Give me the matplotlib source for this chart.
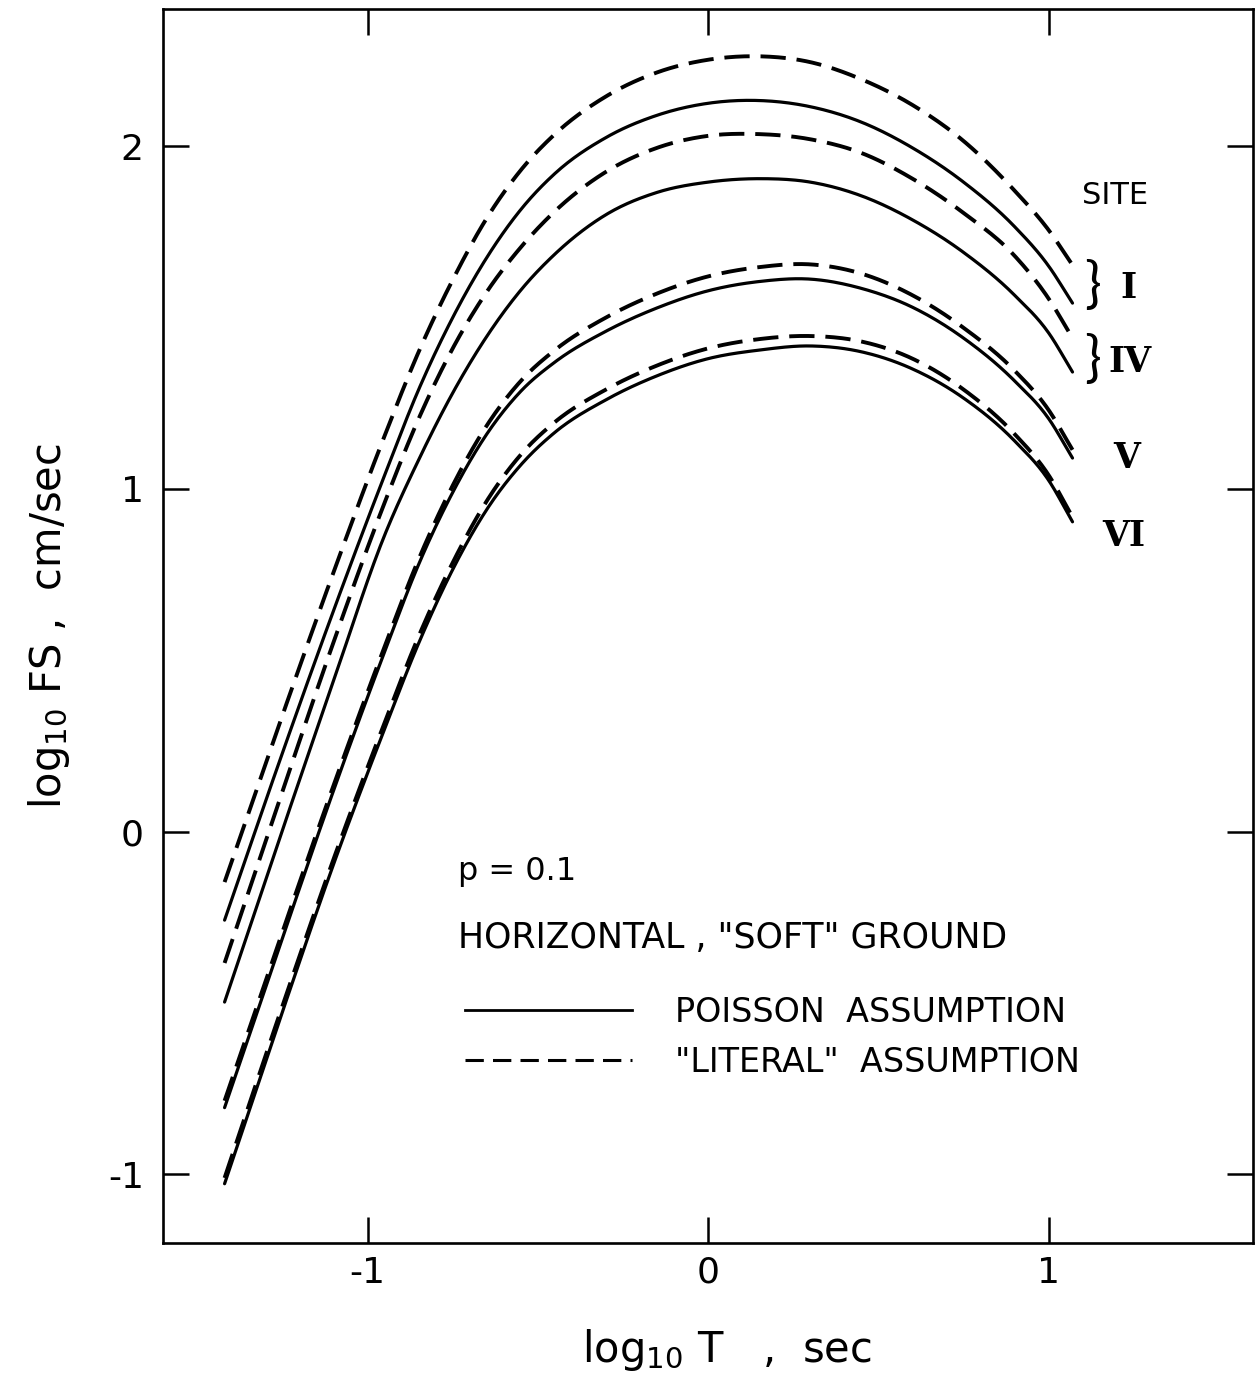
import numpy as np
import matplotlib
matplotlib.use('Agg')
import matplotlib.pyplot as plt
from matplotlib.lines import Line2D

plt.rcParams['font.family'] = ['DejaVu Sans']

log_t = [-1.42, -1.25, -1.10, -0.95, -0.85, -0.75, -0.65, -0.55, -0.45, -0.30,
         -0.15, 0.00, 0.15, 0.30, 0.45, 0.60, 0.75, 0.90, 1.00, 1.07]

# log10 FS (cm/sec), per site: poisson (solid) and literal (dashed)
site1_literal = [-0.147, 0.34, 0.757, 1.155, 1.40, 1.61, 1.79, 1.93, 2.035, 2.145,
                 2.215, 2.252, 2.262, 2.245, 2.195, 2.12, 2.015, 1.87, 1.755, 1.653]
site1_poisson = [-0.258, 0.23, 0.645, 1.04, 1.29, 1.50, 1.675, 1.815, 1.92, 2.025,
                 2.09, 2.125, 2.133, 2.115, 2.07, 1.995, 1.895, 1.765, 1.65, 1.542]
site4_literal = [-0.383, 0.118, 0.553, 0.96, 1.205, 1.41, 1.575, 1.705, 1.81, 1.925,
                 1.995, 2.03, 2.035, 2.02, 1.98, 1.905, 1.805, 1.68, 1.555, 1.44]
site4_poisson = [-0.497, 0.005, 0.44, 0.865, 1.085, 1.28, 1.445, 1.58, 1.685, 1.80,
                 1.865, 1.895, 1.905, 1.895, 1.855, 1.785, 1.69, 1.565, 1.455, 1.341]
site5_literal = [-0.785, -0.292, 0.135, 0.54, 0.795, 1.01, 1.185, 1.315, 1.405, 1.50,
                 1.57, 1.62, 1.647, 1.655, 1.628, 1.565, 1.47, 1.345, 1.23, 1.114]
site5_poisson = [-0.805, -0.31, 0.12, 0.525, 0.78, 0.99, 1.16, 1.285, 1.37, 1.46,
                 1.528, 1.578, 1.605, 1.612, 1.585, 1.53, 1.44, 1.315, 1.205, 1.09]
site6_literal = [-1.010, -0.508, -0.08, 0.318, 0.57, 0.785, 0.965, 1.10, 1.195, 1.29,
                 1.36, 1.41, 1.437, 1.446, 1.43, 1.38, 1.29, 1.16, 1.04, 0.918]
site6_poisson = [-1.027, -0.525, -0.095, 0.30, 0.55, 0.765, 0.94, 1.07, 1.165, 1.26,
                 1.33, 1.38, 1.405, 1.417, 1.40, 1.35, 1.265, 1.14, 1.025, 0.904]

site_names = ['I', 'IV', 'V', 'VI']


def smooth(xs, ys, n=24):
    # cubic hermite through the read points, only to draw a smooth line
    xs = np.asarray(xs, float)
    ys = np.asarray(ys, float)
    m = np.gradient(ys, xs)
    out_x, out_y = [], []
    for i in range(len(xs) - 1):
        h = xs[i + 1] - xs[i]
        t = np.linspace(0, 1, n, endpoint=False)
        h00 = 2 * t**3 - 3 * t**2 + 1
        h10 = t**3 - 2 * t**2 + t
        h01 = -2 * t**3 + 3 * t**2
        h11 = t**3 - t**2
        out_x.append(xs[i] + t * h)
        out_y.append(h00 * ys[i] + h10 * h * m[i] + h01 * ys[i + 1] + h11 * h * m[i + 1])
    out_x.append([xs[-1]])
    out_y.append([ys[-1]])
    return np.concatenate(out_x), np.concatenate(out_y)


fig = plt.figure(figsize=(12.56, 13.85), dpi=100)
ax = fig.add_axes([0.130, 0.1025, 0.8676, 0.891])

dash = (6.5, 2.8)
for ys in [site1_poisson, site4_poisson, site5_poisson, site6_poisson]:
    sx, sy = smooth(log_t, ys)
    ax.plot(sx, sy, color='black', lw=2.3, solid_capstyle='round')
for ys in [site1_literal, site4_literal, site5_literal, site6_literal]:
    sx, sy = smooth(log_t, ys)
    ax.plot(sx, sy, color='black', lw=2.8, dashes=dash, dash_capstyle='butt')

ax.set_xlim(-1.60, 1.60)
ax.set_ylim(-1.20, 2.40)
ax.set_xticks([-1, 0, 1])
ax.set_yticks([-1, 0, 1, 2])
ax.set_xticklabels(['-1', '0', '1'])
ax.set_yticklabels(['-1', '0', '1', '2'])
ax.tick_params(direction='in', length=19, width=1.8, top=True, right=True,
               labelsize=26, pad=9)
ax.tick_params(axis='y', pad=14)
for sp in ax.spines.values():
    sp.set_linewidth(1.9)

ax.set_xlabel(r'$\mathregular{log_{10}}$ T   ,  sec', fontsize=30)
ax.xaxis.set_label_coords(0.517, -0.068)
ax.set_ylabel(r'$\mathregular{log_{10}}$ FS ,  cm/sec', fontsize=30, labelpad=26)

# site labels on the right
ax.text(1.195, 1.857, 'SITE', fontsize=22, ha='center', va='center')
ax.text(1.130, 1.590, '}', fontsize=40, ha='center', va='center',
        family=['Lato', 'DejaVu Sans'])
ax.text(1.130, 1.376, '}', fontsize=40, ha='center', va='center',
        family=['Lato', 'DejaVu Sans'])
label_y = [1.586, 1.370, 1.090, 0.863]
label_x = [1.233, 1.239, 1.230, 1.221]
for name, lx, ly in zip(site_names, label_x, label_y):
    ax.text(lx, ly, name, fontsize=25, ha='center', va='center',
            family='DejaVu Serif', fontweight='bold')

ax.text(-0.734, -0.117, 'p = 0.1', fontsize=23, ha='left', va='center')
ax.text(-0.734, -0.310, 'HORIZONTAL , "SOFT" GROUND', fontsize=25,
        ha='left', va='center')

handles = [Line2D([], [], color='black', lw=2.0),
           Line2D([], [], color='black', lw=2.2, dashes=(6.0, 3.0))]
ax.legend(handles, ['POISSON  ASSUMPTION', '"LITERAL"  ASSUMPTION'],
          loc='upper left', bbox_to_anchor=(0.265, 0.211), frameon=False,
          fontsize=24, handlelength=5.0, handletextpad=1.3, labelspacing=0.5,
          borderaxespad=0)

fig.savefig('out.png', dpi=100)
